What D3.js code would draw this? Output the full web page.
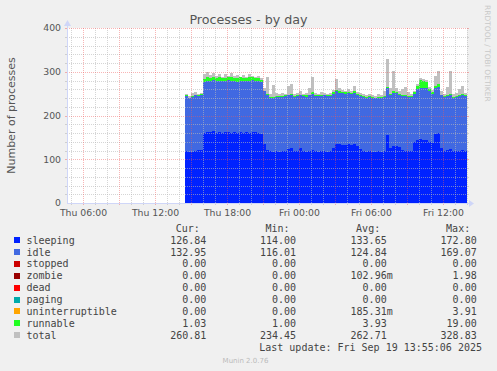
<!DOCTYPE html>
<html>
<head>
<meta charset="utf-8">
<script src="https://cdn.jsdelivr.net/npm/d3@7"></script>
<style>
  body { margin: 0; background: #f0f0f0; }
  svg { display: block; }
</style>
</head>
<body>
<svg id="chart" width="497" height="371"></svg>
<script>
// Samples: every 15 minutes, Thu 14:30 -> Fri 14:00
const sampleStart = Date.UTC(2025, 8, 18, 14, 30);
const sampleStepMin = 15;

const sleeping = [
  118,116,117,119,121,122,
  160,163,162,164,161,163,160,162,163,161,162,160,163,161,162,160,163,162,160,158,
  135,122,119,117,118,117,118,119,124,126,118,119,125,118,117,119,121,118,117,119,118,117,119,126,
  136,134,132,133,134,132,135,131,124,118,117,118,117,116,118,117,120,156,125,130,131,129,121,119,118,120,
  140,145,146,145,144,140,138,158,161,126,119,121,123,118,119,118,121,120,121
];
const idle = [
  126,124,125,127,124,125,
  116,117,117,117,117,117,119,116,118,118,116,117,117,118,116,120,118,117,118,118,
  120,124,122,123,124,126,124,125,122,121,125,125,121,126,126,127,129,127,127,126,128,127,126,124,
  120,118,119,117,118,117,117,117,121,124,124,125,123,123,123,123,122,106,122,122,120,119,124,125,125,122,
  110,115,116,118,118,115,112,104,104,120,123,123,123,123,124,126,125,125,124
];
const runnable = [
  2,1,2,2,2,2,
  7,8,6,8,7,9,6,7,6,8,7,8,7,6,7,8,6,6,7,5,
  2,3,2,2,2,2,3,2,2,3,2,2,2,2,3,2,3,2,3,2,2,2,3,3,
  3,3,2,3,2,3,3,2,2,2,2,2,2,2,2,2,2,3,2,3,2,2,2,2,2,2,
  3,8,19,16,14,5,3,6,8,2,2,2,3,2,2,2,3,2,2
];
const total = [
  250,244,252,254,250,252,
  296,300,292,298,290,296,288,294,291,297,290,293,289,292,288,294,290,288,291,285,
  262,288,250,270,252,249,251,250,268,272,250,252,256,250,251,262,288,252,250,253,252,249,252,258,
  283,262,258,256,260,256,268,254,252,250,248,249,246,245,250,248,256,329,262,301,262,255,260,266,254,250,
  256,272,286,284,282,266,258,290,302,256,250,266,302,250,252,260,268,252,252
];

// legend table
const legendNames = ['sleeping','idle','stopped','zombie','dead','paging','uninterruptible','runnable','total'];
const legendColors = ['#0022ff','#4169e1','#cc0000','#990000','#ff0000','#00aaaa','#ffa500','#22ff22','#c0c0c0'];
const curValues = ['126.84','132.95','0.00','0.00','0.00','0.00','0.00','1.03','260.81'];
const minValues = ['114.00','116.01','0.00','0.00','0.00','0.00','0.00','1.00','234.45'];
const avgValues = ['133.65','124.84','0.00','102.96m','0.00','0.00','185.31m','3.93','262.71'];
const maxValues = ['172.80','169.07','0.00','1.98','0.00','0.00','3.91','19.00','328.83'];
const yTicks = [0, 100, 200, 300, 400];

const svg = d3.select('#chart');
const plot = { left: 67, right: 467, top: 28, bottom: 203 };

const times = sleeping.map((d, i) => new Date(sampleStart + i * sampleStepMin * 60000));
const rows = times.map((t, i) => ({
  time: t, sleeping: sleeping[i], idle: idle[i], runnable: runnable[i], total: total[i]
}));

const x = d3.scaleUtc()
  .domain([new Date(Date.UTC(2025, 8, 18, 4, 42)), new Date(Date.UTC(2025, 8, 19, 14, 2))])
  .range([plot.left, plot.right]);
const y = d3.scaleLinear().domain([0, 400]).range([plot.bottom, plot.top]);

// background + canvas
svg.append('rect').attr('width', 497).attr('height', 371).attr('fill', '#f0f0f0');
svg.append('rect')
  .attr('x', plot.left).attr('y', plot.top)
  .attr('width', plot.right - plot.left).attr('height', plot.bottom - plot.top)
  .attr('fill', '#ffffff');

// total drawn behind the stack
const totalArea = d3.area()
  .x(d => x(d.time)).y0(y(0)).y1(d => y(d.total))
  .curve(d3.curveStepAfter);
svg.append('path').datum(rows)
  .attr('d', totalArea).attr('fill', '#c0c0c0')
  .attr('shape-rendering', 'crispEdges');

const keys = ['sleeping', 'idle', 'runnable'];
const keyColor = { sleeping: '#0022ff', idle: '#4169e1', runnable: '#22ff22' };
const stacked = d3.stack().keys(keys)(rows);
const area = d3.area()
  .x(d => x(d.data.time)).y0(d => y(d[0])).y1(d => y(d[1]))
  .curve(d3.curveStepAfter);
svg.selectAll('path.layer')
  .data(stacked)
  .join('path')
  .attr('class', 'layer')
  .attr('d', area)
  .attr('fill', d => keyColor[d.key])
  .attr('shape-rendering', 'crispEdges');

// grid (drawn over the data, like rrdtool)
const grid = svg.append('g').attr('shape-rendering', 'crispEdges');
const px = v => Math.round(v) + 0.5;
const minorColor = 'rgba(185,185,185,0.6)';
const majorColor = 'rgba(240,90,90,0.45)';

const minorY = d3.range(20, 401, 20).filter(v => v % 100 !== 0);
const majorY = yTicks.filter(v => v > 0);
function hLines(vals, color) {
  vals.forEach(v => {
    grid.append('line')
      .attr('x1', plot.left).attr('x2', plot.right)
      .attr('y1', px(y(v))).attr('y2', px(y(v)))
      .attr('stroke', color).attr('stroke-dasharray', '1,1');
    grid.append('line').attr('x1', plot.left - 2).attr('x2', plot.left)
      .attr('y1', px(y(v))).attr('y2', px(y(v))).attr('stroke', color);
    grid.append('line').attr('x1', plot.right).attr('x2', plot.right + 2)
      .attr('y1', px(y(v))).attr('y2', px(y(v))).attr('stroke', color);
  });
}
function vLines(vals, color) {
  vals.forEach(t => {
    grid.append('line')
      .attr('x1', px(x(t))).attr('x2', px(x(t)))
      .attr('y1', plot.top).attr('y2', plot.bottom)
      .attr('stroke', color).attr('stroke-dasharray', '1,1');
    grid.append('line').attr('x1', px(x(t))).attr('x2', px(x(t)))
      .attr('y1', plot.bottom).attr('y2', plot.bottom + 2).attr('stroke', color);
  });
}
const hours = x.ticks(d3.utcHour.every(1));
const majorHours = x.ticks(d3.utcHour.every(3));
const majorSet = new Set(majorHours.map(d => +d));
hLines(minorY, minorColor);
vLines(hours.filter(t => !majorSet.has(+t)), minorColor);
hLines(majorY, majorColor);
vLines(majorHours, majorColor);

// axes with arrows
const axisColor = '#cfd6f8';
svg.append('line')
  .attr('x1', plot.left + 0.5).attr('x2', plot.left + 0.5)
  .attr('y1', plot.bottom + 0.5).attr('y2', plot.top - 4)
  .attr('stroke', axisColor).attr('shape-rendering', 'crispEdges');
svg.append('line')
  .attr('x1', plot.left).attr('x2', plot.right + 4)
  .attr('y1', plot.bottom + 0.5).attr('y2', plot.bottom + 0.5)
  .attr('stroke', axisColor).attr('shape-rendering', 'crispEdges');
svg.append('path')
  .attr('d', `M${plot.left - 3},${plot.top - 2} L${plot.left + 0.5},${plot.top - 8} L${plot.left + 4},${plot.top - 2} Z`)
  .attr('fill', axisColor);
svg.append('path')
  .attr('d', `M${plot.right + 2},${plot.bottom - 3} L${plot.right + 7},${plot.bottom + 0.5} L${plot.right + 2},${plot.bottom + 4} Z`)
  .attr('fill', axisColor);

// labels
const sans = 'DejaVu Sans, Verdana, sans-serif';
const mono = 'DejaVu Sans Mono, monospace';

svg.append('text')
  .attr('x', 248.5).attr('y', 23.5)
  .attr('text-anchor', 'middle')
  .style('font', `12.7px ${sans}`).attr('fill', '#555')
  .text('Processes - by day');

svg.append('text')
  .attr('transform', `translate(14.5, ${(plot.top + plot.bottom) / 2}) rotate(-90)`)
  .attr('text-anchor', 'middle')
  .style('font', `11px ${sans}`).attr('fill', '#555')
  .text('Number of processes');

svg.selectAll('text.ytick')
  .data(yTicks)
  .join('text')
  .attr('class', 'ytick')
  .attr('x', 61).attr('y', d => y(d) + 3.4)
  .attr('text-anchor', 'end')
  .style('font', `9.3px ${sans}`).attr('fill', '#555')
  .text(d => d);

const fmt = d3.utcFormat('%a %H:%M');
svg.selectAll('text.xtick')
  .data(x.ticks(d3.utcHour.every(6)))
  .join('text')
  .attr('class', 'xtick')
  .attr('x', d => px(x(d))).attr('y', 215.7)
  .attr('text-anchor', 'middle')
  .style('font', `9.3px ${sans}`).attr('fill', '#555')
  .text(fmt);

svg.append('text')
  .attr('transform', 'translate(485, 5) rotate(90)')
  .style('font', `7.5px ${sans}`).attr('fill', '#c8c8c8')
  .text('RRDTOOL / TOBI OETIKER');

// legend
const legend = svg.append('g').style('font', `10px ${mono}`).attr('fill', '#444');
const colEnds = [206.3, 296, 386.7, 476.7];
const colHeads = ['Cur:', 'Min:', 'Avg:', 'Max:'];
const colVals = [curValues, minValues, avgValues, maxValues];
colHeads.forEach((h, c) => {
  legend.append('text').attr('x', colEnds[c] - 6.5).attr('y', 231.5)
    .attr('text-anchor', 'end').text(h);
});
legendNames.forEach((name, k) => {
  const cy = 240 + 11.9 * k;
  legend.append('rect')
    .attr('x', 14).attr('y', Math.round(cy - 3)).attr('width', 6).attr('height', 6)
    .attr('fill', legendColors[k]);
  legend.append('text').attr('x', 26.5).attr('y', cy + 3.6).text(name);
  colVals.forEach((vals, c) => {
    const m = vals[k].match(/^([\d.]+)(\D*)$/);
    legend.append('text').attr('x', colEnds[c]).attr('y', cy + 3.6)
      .attr('text-anchor', 'end').text(m[1]);
    if (m[2]) {
      legend.append('text').attr('x', colEnds[c]).attr('y', cy + 3.6).text(m[2]);
    }
  });
});
legend.append('text')
  .attr('x', 482).attr('y', 351.3)
  .attr('text-anchor', 'end')
  .text('Last update: Fri Sep 19 13:55:06 2025');

svg.append('text')
  .attr('x', 245.5).attr('y', 362.5)
  .attr('text-anchor', 'middle')
  .style('font', `7px ${sans}`).attr('fill', '#bbb')
  .text('Munin 2.0.76');
</script>
</body>
</html>
